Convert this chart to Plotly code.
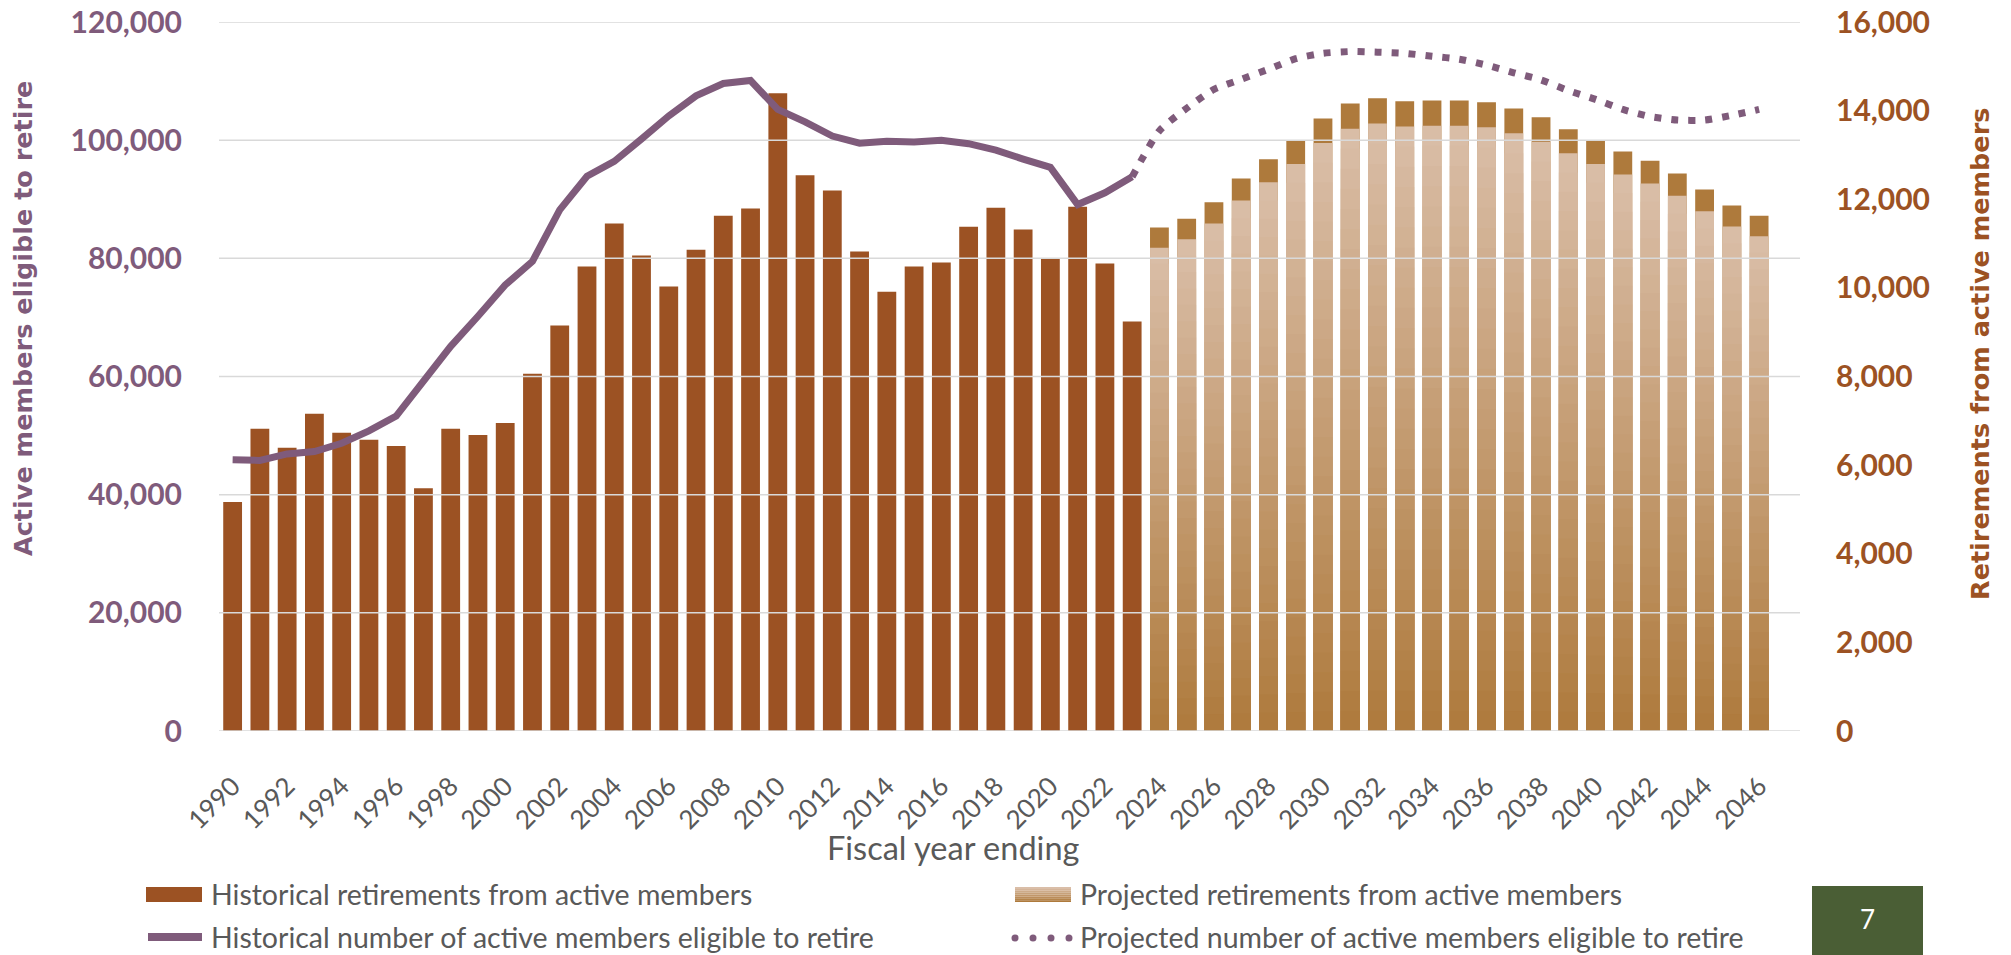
import plotly.graph_objects as go

# categories
years_hist = list(range(1990, 2024))
years_proj = list(range(2024, 2047))
years_proj_line = list(range(2023, 2047))

# retirements from active members (right axis)
retire_hist = [5170, 6820, 6390, 7160, 6730, 6570, 6430, 5480, 6820, 6680,
               6950, 8060, 9150, 10480, 11450, 10730, 10030, 10860, 11630, 11790,
               14390, 12540, 12200, 10820, 9910, 10480, 10570, 11380, 11810, 11320,
               10660, 11830, 10550, 9240]
retire_proj = [11360, 11560, 11930, 12470, 12900, 13330, 13820, 14160, 14280, 14210,
               14230, 14230, 14190, 14050, 13850, 13580, 13330, 13080, 12870, 12580,
               12220, 11860, 11630]

# active members eligible to retire (left axis)
eligible_hist = [45900, 45800, 46900, 47300, 48700, 50800, 53300, 59200, 65100, 70200,
                 75500, 79500, 88200, 93900, 96400, 100200, 104100, 107500, 109600, 110100,
                 105200, 103100, 100700, 99500, 99800, 99700, 100000, 99400, 98300, 96800,
                 95400, 89100, 91100, 93800]
eligible_proj = [93800, 101600, 105400, 108600, 110300, 112000, 113800, 114700, 115000, 114900,
                 114700, 114200, 113700, 112700, 111400, 110200, 108400, 106900, 105200, 104000,
                 103400, 103400, 104200, 105200]

left_ticks = [0, 20000, 40000, 60000, 80000, 100000, 120000]
right_ticks = [0, 2000, 4000, 6000, 8000, 10000, 12000, 14000, 16000]
x_range = [1989.5, 2047.5]

PURPLE = "#7F5B7B"
BROWN = "#9C5223"
GREY = "#595959"
GRID = "#D9D9D9"
CAP = (174, 122, 60)
LIGHT = (218, 190, 168)

# page is offset by the default 8px body margin; all positions below are page pixels
OFF = 8
PAGE_W, PAGE_H = 2011, 955
W, H = PAGE_W - OFF, PAGE_H - OFF
X0, X1, Y0, Y1 = 219, 1800, 22, 731   # plot area on the page


def px(x):
    return (x - X0) / (X1 - X0)


def py(y):
    return (Y1 - y) / (Y1 - Y0)


def mix(a, b, t):
    return "rgb(%d,%d,%d)" % tuple(round(a[i] + (b[i] - a[i]) * t) for i in range(3))


fig = go.Figure()

bar_w = 0.69
fig.add_trace(go.Bar(x=years_hist, y=retire_hist, width=bar_w, marker=dict(color=BROWN, line=dict(width=0)),
                     name="Historical retirements from active members", yaxis="y"))

# projected bars: dark cap on top, then a light-to-dark gradient body
n_seg = 30
body = 0.96
fig.add_trace(go.Bar(x=years_proj, y=retire_proj, width=bar_w,
                     marker=dict(color=mix(CAP, CAP, 0), line=dict(width=0)),
                     name="Projected retirements from active members", yaxis="y"))
for k in range(n_seg, 0, -1):
    f = body * k / n_seg
    t = (k - 0.5) / n_seg
    fig.add_trace(go.Bar(x=years_proj, y=[v * f for v in retire_proj], width=bar_w,
                         marker=dict(color=mix(CAP, LIGHT, t), line=dict(width=0)),
                         showlegend=False, hoverinfo="skip", yaxis="y"))

# gridlines sit over the bars but under the lines, as in the original
grid_x, grid_y = [], []
for v in left_ticks:
    grid_x += [x_range[0], x_range[1], None]
    grid_y += [v, v, None]
fig.add_trace(go.Scatter(x=grid_x, y=grid_y, mode="lines", yaxis="y2", line=dict(color=GRID, width=1.5),
                         showlegend=False, hoverinfo="skip", cliponaxis=False))

fig.add_trace(go.Scatter(x=years_hist, y=eligible_hist, mode="lines", yaxis="y2",
                         line=dict(color=PURPLE, width=7),
                         name="Historical number of active members eligible to retire"))
fig.add_trace(go.Scatter(x=years_proj_line, y=eligible_proj, mode="lines", yaxis="y2",
                         line=dict(color=PURPLE, width=7, dash="7px,10px", shape="spline", smoothing=0.6),
                         name="Projected number of active members eligible to retire"))

fig.update_layout(
    width=W, height=H,
    margin=dict(l=X0 - OFF, r=PAGE_W - X1, t=Y0 - OFF, b=PAGE_H - Y1, autoexpand=False),
    paper_bgcolor="white", plot_bgcolor="white",
    barmode="overlay", showlegend=False,
    xaxis=dict(range=x_range, tick0=1990, dtick=2, tickangle=-45,
               showgrid=False, zeroline=False, showline=False, ticks="", automargin=False,
               ticklabelstandoff=34, ticklabeloverflow="allow",
               tickfont=dict(family="Lato", size=26, color=GREY)),
    yaxis=dict(side="right", range=[0, 16000], tickvals=right_ticks, tickformat=",d",
               showgrid=False, zeroline=False, ticks="", ticklabelstandoff=35, automargin=False,
               ticklabeloverflow="allow",
               tickfont=dict(family="Lato", size=30, color=BROWN, weight="bold")),
    yaxis2=dict(side="left", overlaying="y", range=[0, 120000], tickvals=left_ticks, tickformat=",d",
                showgrid=False, zeroline=False, ticks="",
                ticklabelstandoff=36, automargin=False, ticklabeloverflow="allow",
                tickfont=dict(family="Lato", size=30, color=PURPLE, weight="bold")),
)

ann = []
ann.append(dict(x=px(23), y=py(319), text="Active members eligible to retire", textangle=-90,
                font=dict(family="DejaVu Sans", size=25.5, color=PURPLE, weight="bold")))
ann.append(dict(x=px(1980), y=py(354), text="Retirements from active members", textangle=-90,
                font=dict(family="DejaVu Sans", size=25.5, color=BROWN, weight="bold")))
ann.append(dict(x=px(953), y=py(847), text="Fiscal year ending",
                font=dict(family="Lato", size=32.5, color=GREY)))

legend_font = dict(family="Lato", size=28.5, color=GREY)
ann.append(dict(x=px(209), y=py(894), text="Historical retirements from active members", xanchor="left", font=legend_font))
ann.append(dict(x=px(1078), y=py(894), text="Projected retirements from active members", xanchor="left", font=legend_font))
ann.append(dict(x=px(209), y=py(937), text="Historical number of active members eligible to retire", xanchor="left", font=legend_font))
ann.append(dict(x=px(1078), y=py(937), text="Projected number of active members eligible to retire", xanchor="left", font=legend_font))
ann.append(dict(x=px(1867), y=py(919), text="7", font=dict(family="Lato", size=26, color="white")))
for a in ann:
    a.update(xref="paper", yref="paper", showarrow=False)
    a.setdefault("xanchor", "center")
    a.setdefault("yanchor", "middle")
fig.update_layout(annotations=ann)

shapes = []
# legend swatches
shapes.append(dict(type="rect", x0=px(146), x1=px(202), y0=py(902), y1=py(887), fillcolor=BROWN, line=dict(width=0)))
stripes = 8
for i in range(stripes):
    y_top = 887 + 15 * i / stripes
    y_bot = 887 + 15 * (i + 1) / stripes
    shapes.append(dict(type="rect", x0=px(1015), x1=px(1071), y0=py(y_bot), y1=py(y_top),
                       fillcolor=mix(LIGHT, CAP, i / (stripes - 1)), line=dict(width=0)))
shapes.append(dict(type="line", x0=px(148), x1=px(202), y0=py(937), y1=py(937), line=dict(color=PURPLE, width=8)))
for cx in [1015, 1033, 1051, 1069]:
    shapes.append(dict(type="circle", x0=px(cx - 3.5), x1=px(cx + 3.5), y0=py(941.5), y1=py(934.5),
                       fillcolor=PURPLE, line=dict(width=0)))
# page number box
shapes.append(dict(type="rect", x0=px(1812), x1=px(1923), y0=py(955), y1=py(886), fillcolor="#4A5E35", line=dict(width=0)))
for s in shapes:
    s.update(xref="paper", yref="paper", layer="above")
fig.update_layout(shapes=shapes)

fig.write_html("out.html")
